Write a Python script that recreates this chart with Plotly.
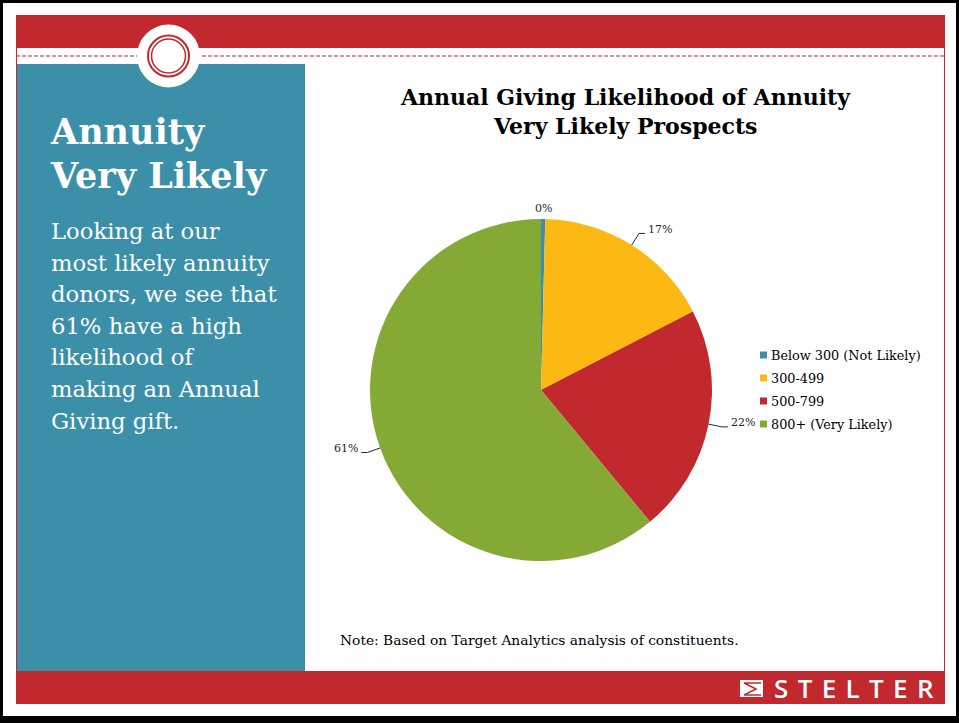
import math
import plotly.graph_objects as go

# ---- data ----
categories = ["Below 300 (Not Likely)", "300-499", "500-799", "800+ (Very Likely)"]
shares = [0.4, 17.0, 21.6, 61.0]
slice_colors = ["#3B8FA8", "#FDB913", "#C1292E", "#85A935"]

title_lines = ["Annual Giving Likelihood of Annuity", "Very Likely Prospects"]
panel_heading = ["Annuity", "Very Likely"]
panel_body = ["Looking at our", "most likely annuity", "donors, we see that",
              "61% have a high", "likelihood of", "making an Annual", "Giving gift."]
note_text = "Note: Based on Target Analytics analysis of constituents."
brand = "STELTER"

W, H = 959, 723
RED = "#C1292E"
TEAL = "#3B8FA8"
SERIF = "DejaVu Serif"


def px(x):
    return x / W


def py(y):
    return 1 - y / H


# pie geometry (pixels)
CX, CY, R = 541, 390, 171

fig = go.Figure()
fig.add_trace(go.Pie(
    labels=categories, values=shares, sort=False, direction="clockwise",
    rotation=0,
    marker=dict(colors=slice_colors, line=dict(width=0)),
    textinfo="none",
    domain=dict(x=[px(CX - R), px(CX + R)], y=[py(CY + R), py(CY - R)]),
    hoverinfo="label+percent",
    showlegend=False,
))

shapes = []
annotations = []


def rect(x0, y0, x1, y1, color, layer="below"):
    shapes.append(dict(type="rect", xref="paper", yref="paper",
                       x0=px(x0), x1=px(x1), y0=py(y1), y1=py(y0),
                       fillcolor=color, line=dict(width=0), layer=layer))


def text(x, y, s, size, color="black", bold=False, xanchor="left", yanchor="middle",
         family=SERIF, weight=None):
    f = dict(family=family, size=size, color=color)
    if weight:
        f["weight"] = weight
    annotations.append(dict(xref="paper", yref="paper", x=px(x), y=py(y),
                            text=f"<b>{s}</b>" if bold else s,
                            showarrow=False, xanchor=xanchor, yanchor=yanchor, font=f))


# slide decorations
rect(16, 15, 945, 48, RED)
rect(16, 671, 945, 704, RED)
rect(17, 64, 305, 671, TEAL)
shapes.append(dict(type="line", xref="paper", yref="paper", x0=px(16.5), x1=px(16.5),
                   y0=py(48), y1=py(671), line=dict(color=RED, width=1)))
shapes.append(dict(type="line", xref="paper", yref="paper", x0=px(944.5), x1=px(944.5),
                   y0=py(48), y1=py(671), line=dict(color=RED, width=1)))
shapes.append(dict(type="line", xref="paper", yref="paper", x0=px(16), x1=px(945),
                   y0=py(56), y1=py(56), line=dict(color=RED, width=1, dash="4px,2px")))
for r_, lc, lw in [(31.5, "white", 0), (20.5, RED, 2), (17, RED, 1.5)]:
    shapes.append(dict(type="circle", xref="paper", yref="paper",
                       x0=px(168.5 - r_), x1=px(168.5 + r_), y0=py(56 + r_), y1=py(56 - r_),
                       fillcolor="white", line=dict(color=lc, width=lw), layer="above"))
rect(0, 0, W, 3, "black", "above")
rect(0, 0, 3, H, "black", "above")
rect(956, 0, W, H, "black", "above")
rect(0, 716, W, H, "black", "above")
# logo icon
rect(740, 680, 763, 697, "white", "above")
shapes.append(dict(type="path", xref="paper", yref="paper",
                   path=f"M {px(761)},{py(683)} L {px(744)},{py(683)} L {px(756)},{py(689)} L {px(744)},{py(695)} L {px(761)},{py(695)}",
                   line=dict(color=RED, width=1.5), layer="above"))

# data labels with leader lines, positioned from the slice angles
cum = 0.0
total = sum(shares)
for v in shares:
    frac = v / total
    mid = (cum + v / 2) / total * 2 * math.pi
    cum += v
    label = f"{round(frac * 100)}%"
    s, c = math.sin(mid), math.cos(mid)
    if frac < 0.02:
        text(CX + (R + 11) * s, CY - (R + 11) * c, label, 11, color="#262626",
             xanchor="center", yanchor="middle")
        continue
    sx, sy = CX + R * s, CY - R * c
    ex, ey = CX + R * 1.08 * s, CY - R * 1.08 * c
    d = 1 if s > 0 else -1
    hx = ex + 6 * d
    shapes.append(dict(type="path", xref="paper", yref="paper",
                       path=f"M {px(sx)},{py(sy)} L {px(ex)},{py(ey)} L {px(hx)},{py(ey)}",
                       line=dict(color="#262626", width=1)))
    text(hx + 1 * d, ey - 4, label, 11, color="#262626",
         xanchor="left" if d > 0 else "right")

# legend built from the categories / colours
LX, LY, LSTEP = 760, 355, 23
for i, (cat, col) in enumerate(zip(categories, slice_colors)):
    yy = LY + i * LSTEP
    rect(LX, yy - 3.5, LX + 7, yy + 3.5, col, "above")
    text(LX + 9, yy, cat, 12.8)

for i, ln in enumerate(title_lines):
    text(625, 97 + i * 29, ln, 22, bold=True, xanchor="center")
for i, ln in enumerate(panel_heading):
    text(48, 131 + i * 44, ln, 35, color="white", bold=True)
for i, ln in enumerate(panel_body):
    text(49, 231 + i * 31.6, ln, 22.7, color="white")
text(338, 640, note_text, 13.8)
text(936, 688, "&nbsp;&#8202;".join(brand), 26, color="white", xanchor="right",
     family="Open Sans", weight=600)

fig.update_layout(
    width=W, height=H, margin=dict(l=0, r=0, t=0, b=0),
    paper_bgcolor="white", plot_bgcolor="white",
    shapes=shapes, annotations=annotations,
    showlegend=False,
)

fig.write_html("out.html")
